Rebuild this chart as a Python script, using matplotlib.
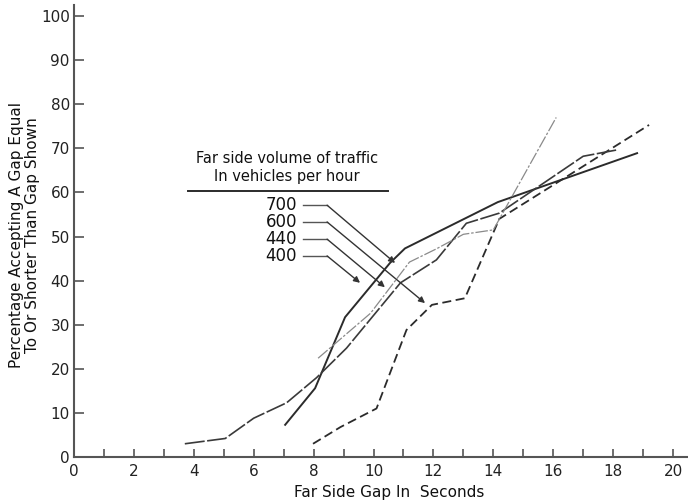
import numpy as np
import matplotlib
matplotlib.use('Agg')
import matplotlib.pyplot as plt
import matplotlib.ticker as ticker

# far side gap (s) vs. percentage accepting a gap <= gap shown
gap_400 = [8.15, 9.9, 11.2, 12.1, 13.0, 14.0, 16.1]
pct_400 = [22.4, 32.6, 44.2, 47.2, 50.5, 51.5, 77.0]

gap_440 = [3.7, 5.05, 6.0, 7.1, 8.1, 9.1, 10.9, 12.1, 13.1, 14.2, 17.0, 18.1]
pct_440 = [3.0, 4.2, 8.8, 12.3, 18.0, 24.7, 39.5, 44.7, 53.0, 55.3, 68.2, 69.6]

gap_600 = [7.98, 8.9, 10.1, 11.1, 11.95, 13.05, 14.2, 19.2]
pct_600 = [3.0, 6.8, 11.0, 28.8, 34.5, 36.0, 54.0, 75.3]

gap_700 = [7.05, 8.05, 9.05, 10.55, 11.05, 14.15, 18.8]
pct_700 = [7.3, 15.6, 31.7, 44.0, 47.3, 57.8, 68.9]

volumes = ['700', '600', '440', '400']
label_y = [57.1, 53.3, 49.4, 45.6]
arrow_x = [10.72, 11.72, 10.38, 9.55]
arrow_y = [44.0, 34.9, 38.5, 39.5]

fig = plt.figure(figsize=(6.88, 5.03), dpi=100)
ax = fig.add_axes([74 / 688, 46 / 503, 614 / 688, 452 / 503])

ink = '#2b2b2b'
ax.plot(gap_700, pct_700, color=ink, lw=1.4)
ax.plot(gap_600, pct_600, color=ink, lw=1.3, dashes=(5, 2.5))
ax.plot(gap_440, pct_440, color='#3a3a3a', lw=1.2, dashes=(12, 1.5))
ax.plot(gap_400, pct_400, color='#8a8a8a', lw=0.9, dashes=(10, 1.5, 2, 1.5))

# legend block
ax.text(7.1, 67.8, 'Far side volume of traffic', ha='center', va='center',
        fontsize=10.5, color='#111')
ax.text(7.1, 63.5, 'In vehicles per hour', ha='center', va='center',
        fontsize=10.5, color='#111')
ax.plot([3.8, 10.5], [60.3, 60.3], color=ink, lw=1.4)

for v, ly, axx, ayy in zip(volumes, label_y, arrow_x, arrow_y):
    ax.text(7.45, ly, v, ha='right', va='center', fontsize=12, color='#111')
    ax.plot([7.65, 8.45], [ly, ly], color='#555', lw=1.0)
    ax.annotate('', xy=(axx, ayy), xytext=(8.45, ly),
                arrowprops=dict(arrowstyle='-|>', color='#333', lw=1.0,
                                mutation_scale=9, shrinkA=0, shrinkB=0))

ax.set_xlim(0, 20.5)
ax.set_ylim(0, 102.5)
for s in ['top', 'right']:
    ax.spines[s].set_visible(False)
for s in ['left', 'bottom']:
    ax.spines[s].set_color('#555')
    ax.spines[s].set_linewidth(1.5)

ax.xaxis.set_major_locator(ticker.MultipleLocator(2))
ax.xaxis.set_minor_locator(ticker.MultipleLocator(1))
ax.yaxis.set_major_locator(ticker.MultipleLocator(10))
ax.tick_params(axis='x', which='both', direction='in', length=6, width=1.2,
               color='#555', labelsize=11, pad=5, labelcolor='#222')
ax.tick_params(axis='y', direction='in', length=7, width=1.2, color='#555',
               labelsize=11, pad=3, labelcolor='#222')

fig.text(24.5 / 688, 1 - 235 / 503,
         'Percentage Accepting A Gap Equal\nTo Or Shorter Than Gap Shown',
         rotation=90, ha='center', va='center', fontsize=11,
         linespacing=1.1, color='#111')
fig.text(389 / 688, 1 - 493 / 503, 'Far Side Gap In  Seconds',
         ha='center', va='center', fontsize=11, color='#111')

fig.savefig('out.png', dpi=100)
